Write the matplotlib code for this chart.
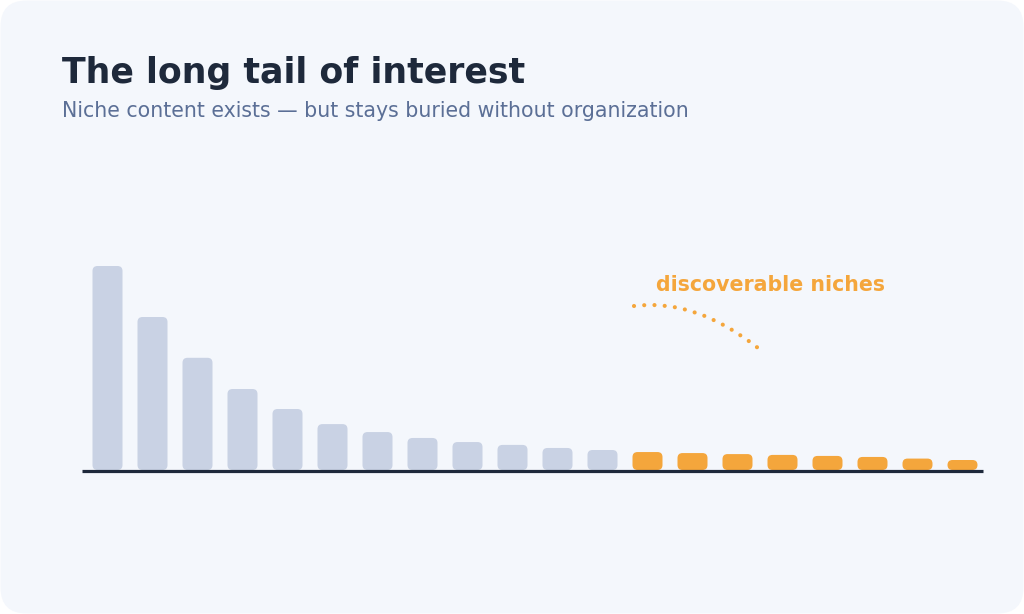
import matplotlib.pyplot as plt
from matplotlib.patches import FancyBboxPatch, PathPatch
from matplotlib.path import Path

# relative interest per item, head -> tail
head_values = [100, 75, 55, 39.7, 29.9, 22.5, 18.6, 15.7, 13.7, 12.3, 10.8, 9.8]
tail_values = [8.8, 8.3, 7.8, 7.4, 6.9, 6.4, 5.6, 4.9]
title = "The long tail of interest"
subtitle = "Niche content exists \u2014 but stays buried without organization"
note = "discoverable niches"

grey = "#c9d2e4"
orange = "#f4a63c"
navy = "#1e293b"
slate = "#5b6f96"
bg = "#f4f7fc"

W, H = 1024, 614
fig = plt.figure(figsize=(W / 100, H / 100), dpi=100)
fig.patch.set_facecolor("white")

# overlay in pixel coords for background, titles, note
ov = fig.add_axes([0, 0, 1, 1])
ov.set_xlim(0, W)
ov.set_ylim(H, 0)
ov.axis("off")
ov.add_patch(FancyBboxPatch((0.5, 0.5), W - 1, H - 1,
                            boxstyle="round,pad=0,rounding_size=26",
                            fc=bg, ec="none"))
ov.text(62, 83, title, fontsize=25, fontweight="bold", color=navy, va="baseline")
ov.text(62, 117, subtitle, fontsize=14.8, color=slate, va="baseline")
ov.text(656, 291, note, fontsize=14.8, fontweight="bold", color=orange, va="baseline")
curve = Path([(634, 306), (695, 298), (758, 348)],
             [Path.MOVETO, Path.CURVE3, Path.CURVE3])
ov.add_patch(PathPatch(curve, fc="none", ec=orange, lw=3.0,
                       linestyle=(0, (0.01, 2.45)), capstyle="round"))

# bar axes: baseline at pixel 472
ax_left, ax_right = 82, 983
ax_bot, ax_top = 472, 250
ax = fig.add_axes([ax_left / W, (H - ax_bot) / H,
                   (ax_right - ax_left) / W, (ax_bot - ax_top) / H])
ax.patch.set_alpha(0)
ax.axis("off")

values = head_values + tail_values
colors = [grey] * len(head_values) + [orange] * len(tail_values)
px_per_x = 45.0
px_per_y = 2.04
x0 = -25.5 / px_per_x
ax.set_xlim(x0, x0 + (ax_right - ax_left) / px_per_x)
y0 = -2 / px_per_y
ax.set_ylim(y0, y0 + (ax_bot - ax_top) / px_per_y)

bw = 30 / px_per_x
r = 5 / px_per_x
for i, (v, c) in enumerate(zip(values, colors)):
    ax.add_patch(FancyBboxPatch((i - bw / 2, 0), bw, v,
                                boxstyle=f"round,pad=0,rounding_size={r}",
                                mutation_aspect=px_per_x / px_per_y,
                                fc=c, ec="none"))

ax.plot(ax.get_xlim(), [y0 + 0.3, y0 + 0.3], color=navy, lw=2.3,
        solid_capstyle="butt", clip_on=False)

fig.savefig("out.png", dpi=100, facecolor="white")
